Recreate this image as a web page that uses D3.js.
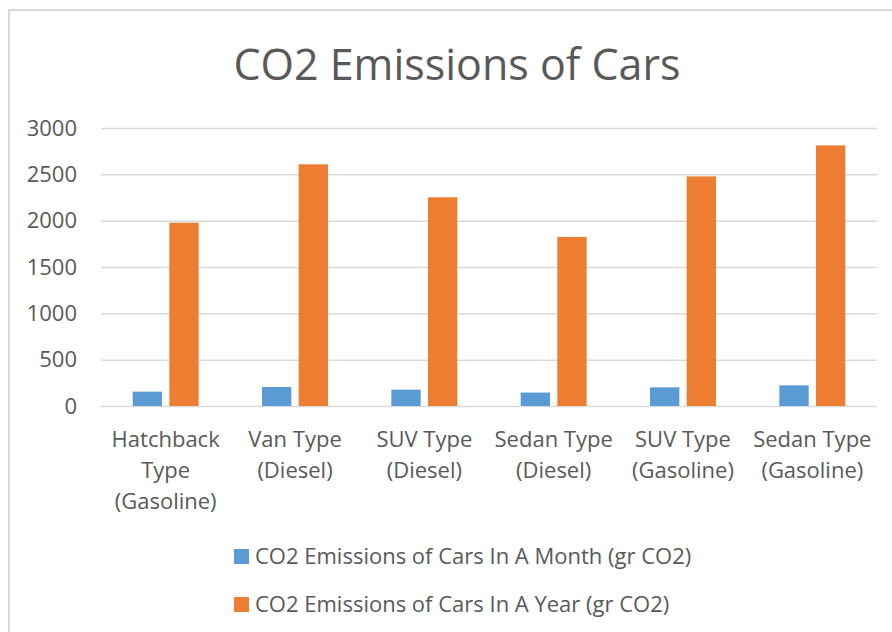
<!DOCTYPE html>
<html>
<head>
<meta charset="utf-8">
<script src="https://cdn.jsdelivr.net/npm/d3@7"></script>
<style>
  body { margin: 0; background: #fff; }
  svg { display: block; font-family: "Open Sans", sans-serif; }
</style>
</head>
<body>
<svg></svg>
<script>
let categories = [
  ['Hatchback', 'Type', '(Gasoline)'],
  ['Van Type', '(Diesel)'],
  ['SUV Type', '(Diesel)'],
  ['Sedan Type', '(Diesel)'],
  ['SUV Type', '(Gasoline)'],
  ['Sedan Type', '(Gasoline)']
];
let seriesNames = [
  'CO2 Emissions of Cars In A Month (gr CO2)',
  'CO2 Emissions of Cars In A Year (gr CO2)'
];
let monthValues = [155, 205, 176, 145, 201, 223];
let yearValues = [1978, 2608, 2252, 1825, 2478, 2812];
let yTicks = [0, 500, 1000, 1500, 2000, 2500, 3000];
let colors = ['#5B9BD5', '#ED7D31'];

let width = 892;
let height = 632;
let plotLeft = 101, plotRight = 877, plotTop = 128, plotBottom = 406;
let textColor = '#595959';

let rows = categories.map((c, i) => ({
  label: c,
  values: [monthValues[i], yearValues[i]]
}));

let svg = d3.select('svg')
            .attr('width', width)
            .attr('height', height);

// chart frame
svg.append('rect')
    .attr('x', 9)
    .attr('y', 10)
    .attr('width', 900)
    .attr('height', 700)
    .attr('fill', '#fff')
    .attr('stroke', '#D9D9D9')
    .attr('stroke-width', 2);

svg.append('text')
    .attr('x', 457)
    .attr('y', 80)
    .attr('text-anchor', 'middle')
    .style('font-size', '43px')
    .style('fill', textColor)
    .text('CO2 Emissions of Cars');

let x0 = d3.scaleBand()
            .domain(d3.range(categories.length))
            .range([plotLeft, plotRight])
            .paddingInner(0.49)
            .paddingOuter(0.245);

let x1 = d3.scaleBand()
            .domain([0, 1])
            .range([0, x0.bandwidth()])
            .paddingInner(0.2);

let yScale = d3.scaleLinear()
                .domain([0, 3000])
                .range([plotBottom, plotTop]);

let yAxis = d3.axisLeft(yScale)
              .tickValues(yTicks)
              .tickFormat(d3.format('d'))
              .tickSize(-(plotRight - plotLeft))
              .tickPadding(24);

let gy = svg.append('g')
    .attr('transform', `translate(${plotLeft},0)`)
    .call(yAxis);
gy.select('.domain').remove();
gy.selectAll('line')
    .attr('stroke', '#D9D9D9')
    .attr('stroke-width', 1.5);
gy.selectAll('text')
    .style('font-family', '"Open Sans", sans-serif')
    .style('font-size', '22px')
    .style('fill', textColor);

let groups = svg.selectAll('.group')
    .data(rows)
    .enter()
    .append('g')
    .classed('group', true)
    .attr('transform', (d, i) => `translate(${x0(i)},0)`);

groups.selectAll('rect')
    .data(d => d.values)
    .enter()
    .append('rect')
    .attr('x', (d, j) => x1(j))
    .attr('y', d => yScale(d))
    .attr('width', x1.bandwidth())
    .attr('height', d => plotBottom - yScale(d))
    .attr('fill', (d, j) => colors[j]);

// category labels, one line per tspan
let labels = svg.selectAll('.cat')
    .data(rows)
    .enter()
    .append('text')
    .classed('cat', true)
    .attr('text-anchor', 'middle')
    .style('font-size', '22px')
    .style('fill', textColor);

labels.selectAll('tspan')
    .data((d, i) => d.label.map(t => ({t: t, i: i})))
    .enter()
    .append('tspan')
    .attr('x', d => x0(d.i) + x0.bandwidth() / 2)
    .attr('y', (d, k) => 447 + k * 31)
    .text(d => d.t);

// legend
let legend = svg.selectAll('.legend')
    .data(seriesNames)
    .enter()
    .append('g')
    .classed('legend', true)
    .attr('transform', (d, i) => `translate(234,${549 + i * 48})`);

legend.append('rect')
    .attr('width', 15)
    .attr('height', 15)
    .attr('fill', (d, i) => colors[i]);

legend.append('text')
    .attr('x', 21)
    .attr('y', 15)
    .style('font-size', '22px')
    .style('fill', textColor)
    .text(d => d);
</script>
</body>
</html>
